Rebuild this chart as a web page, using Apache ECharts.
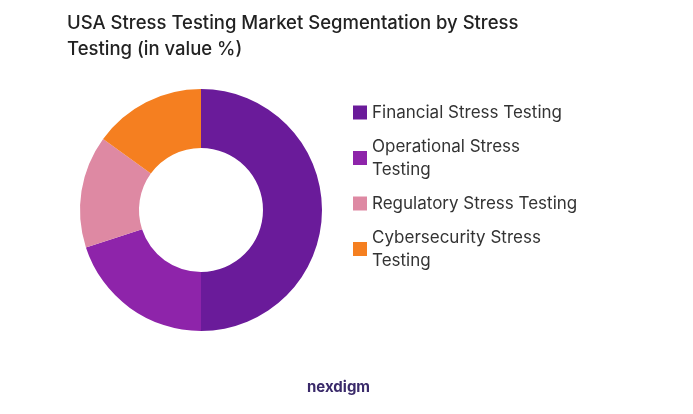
<!DOCTYPE html><html><head><meta charset="utf-8"><script src="https://cdn.jsdelivr.net/npm/echarts@6/dist/echarts.min.js"></script></head><body style="margin:0"><div id="c" style="width:693px;height:414px"></div><script>
const categories=["Financial Stress Testing","Operational Stress Testing","Regulatory Stress Testing","Cybersecurity Stress Testing"];
const values=[50,20,15,15];
const labels={"Operational Stress Testing":"Operational Stress\nTesting","Cybersecurity Stress Testing":"Cybersecurity Stress\nTesting"};
const colors=["#6a1b9a","#8e24aa","#de89a3","#f57f20"];
const ch=echarts.init(document.getElementById('c'));
ch.setOption({
title:{text:"USA Stress Testing Market Segmentation by Stress\nTesting (in value %)",left:62,top:5,textStyle:{fontFamily:"Inter",fontSize:18.5,fontWeight:500,color:"#222",lineHeight:26}},
color:colors,
legend:{orient:"vertical",left:348,top:96,itemWidth:14,itemHeight:14,itemGap:11,icon:"rect",
formatter:n=>labels[n]||n,textStyle:{fontFamily:"Inter",fontSize:17,color:"#333",lineHeight:23}},
graphic:[{type:"text",left:307,top:380,style:{text:"nexdigm",font:"bold 15px Inter",fill:"#3a2a6a"}}],
series:[{type:"pie",radius:[62,121],center:[201,210],startAngle:90,clockwise:true,label:{show:false},
data:categories.map((c,i)=>({name:c,value:values[i]}))}]
});
</script></body></html>
